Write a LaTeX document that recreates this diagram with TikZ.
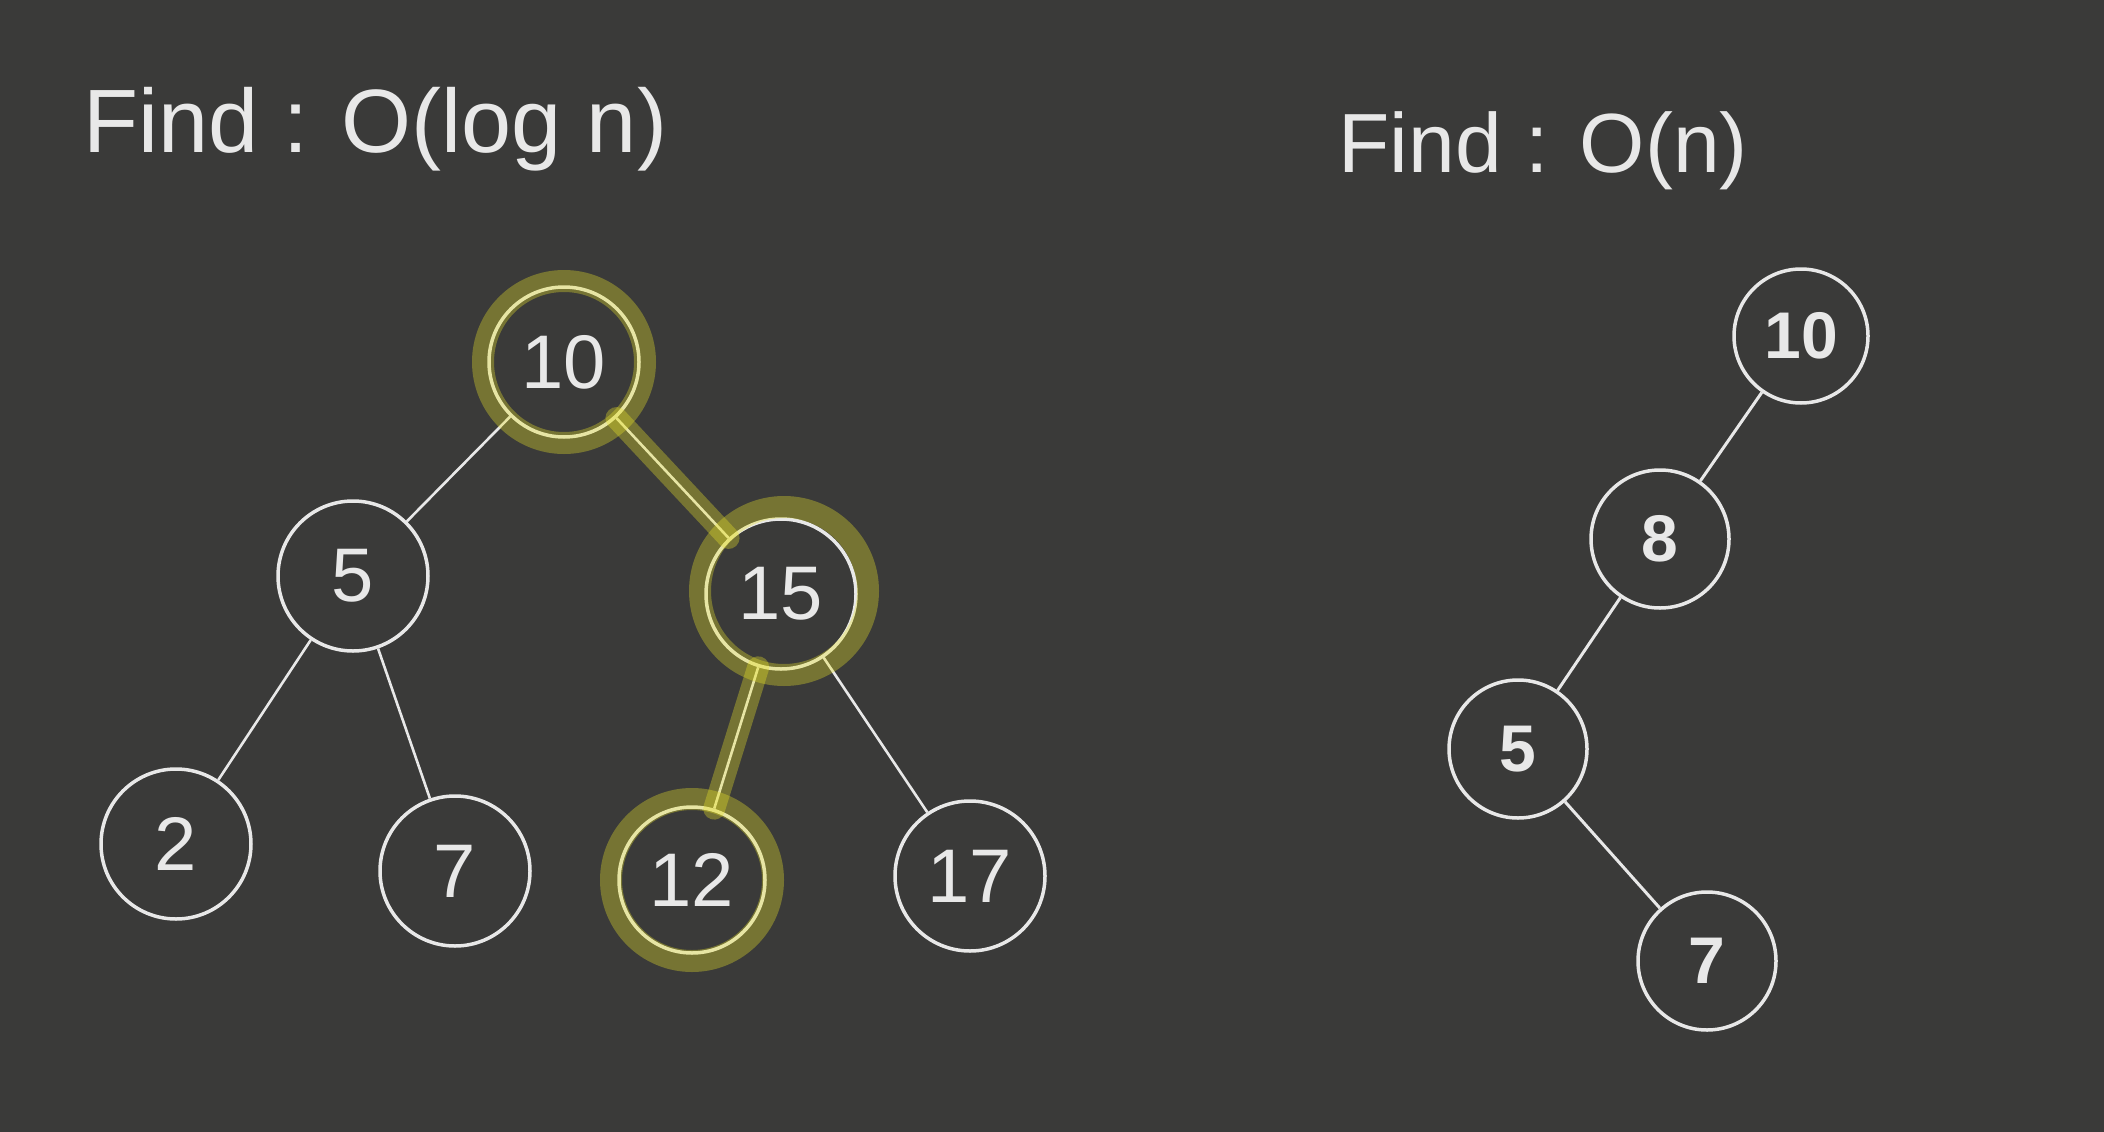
\documentclass[tikz,border=0pt]{standalone}
\usepackage{fontspec}
\setmainfont{Liberation Sans}
\usepackage{tikz}

\definecolor{board}{RGB}{58,58,57}
\definecolor{chalk}{RGB}{232,232,232}
\definecolor{marker}{RGB}{230,225,40}

\tikzset{
  key/.style={circle, draw=chalk, line width=3.5pt, inner sep=0pt, minimum size=150pt, text=chalk, font=\fontsize{76}{80}\selectfont},
  boldkey/.style={key, minimum size=138pt, font=\fontsize{66}{70}\selectfont\bfseries},
  branch/.style={draw=chalk, line width=2.6pt},
  glow/.style={draw=marker, draw opacity=0.35, line width=22pt, line cap=round},
  title/.style={anchor=base west, text=chalk, font=\fontsize{90}{96}\selectfont}
}

\begin{document}
\begin{tikzpicture}[x=1pt, y=-1pt]
        \fill[board] (0,0) rectangle (2104,1132);
        \useasboundingbox (0,0) rectangle (2104,1132);

        \node[title] (tlog) at (80,152) {Find : O(log n)};
        \node[title, font=\fontsize{84}{90}\selectfont] (tlin) at (1335,172) {Find : O(n)};

        % balanced tree
        \node[key] (a10) at (564,362) {10};
        \node[key] (a5) at (353,576) {5};
        \node[key] (a15) at (781,594) {15};
        \node[key] (a2) at (176,844) {2};
        \node[key] (a7) at (455,871) {7};
        \node[key, minimum size=146pt] (a12) at (692,880) {12};
        \node[key] (a17) at (970,876) {17};
        \draw[branch] (a10) -- (a5);
        \draw[branch] (a10) -- (a15);
        \draw[branch] (a5) -- (a2);
        \draw[branch] (a5) -- (a7);
        \draw[branch] (a15) -- (a12);
        \draw[branch] (a15) -- (a17);

        \draw[glow, line cap=butt] (a10.center) circle[radius=81pt];
        \draw[glow, line cap=butt] ([shift={(3pt,3pt)}]a15.center) circle[radius=84pt];
        \draw[glow, line cap=butt] (a12.center) circle[radius=81pt];
        \draw[glow] (a10) -- (a15);
        \draw[glow] (a15) -- (a12);

        % degenerate tree
        \node[boldkey, minimum size=134pt] (b10) at (1801,336) {10};
        \node[boldkey] (b8) at (1660,539) {8};
        \node[boldkey] (b5) at (1518,749) {5};
        \node[boldkey] (b7) at (1707,961) {7};
        \draw[branch, line width=3pt] (b10) -- (b8);
        \draw[branch, line width=3pt] (b8) -- (b5);
        \draw[branch, line width=3pt] (b5) -- (b7);
\end{tikzpicture}
\end{document}
